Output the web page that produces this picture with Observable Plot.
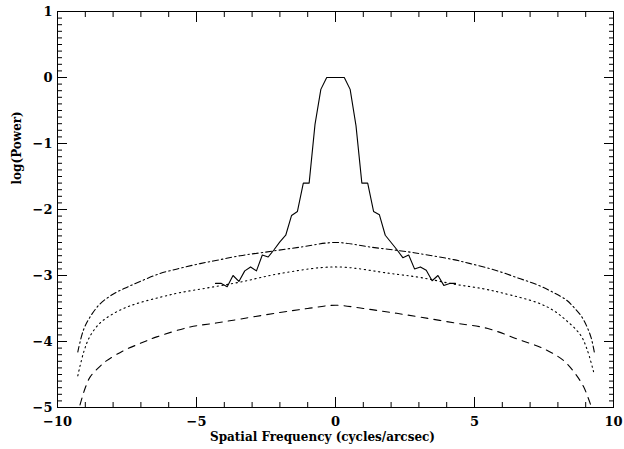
<!DOCTYPE html>
<html><head><meta charset="utf-8">
<script src="https://cdn.jsdelivr.net/npm/d3@7"></script>
<script src="https://cdn.jsdelivr.net/npm/@observablehq/plot@0.6"></script>
<style>body{margin:0;background:#fff} svg{display:block}</style>
</head><body><div id="chart"></div>
<script>
// Observed power spectrum (solid)
const freq = [-4.317,-4.107,-3.896,-3.686,-3.475,-3.264,-3.054,-2.843,-2.633,-2.422,-2.211,-2.001,-1.790,-1.580,-1.369,-1.158,-0.948,-0.737,-0.527,-0.316,-0.105,
              0.105,0.316,0.527,0.737,0.948,1.158,1.369,1.580,1.790,2.001,2.211,2.422,2.633,2.843,3.054,3.264,3.475,3.686,3.896,4.107,4.317];
const power = [-3.12,-3.12,-3.17,-3.00,-3.09,-2.93,-2.87,-2.93,-2.69,-2.72,-2.61,-2.49,-2.39,-2.09,-2.03,-1.60,-1.60,-0.71,-0.18,0,0,
               0,0,-0.18,-0.73,-1.60,-1.60,-2.03,-2.08,-2.39,-2.50,-2.61,-2.73,-2.69,-2.90,-2.87,-2.92,-3.08,-3.00,-3.15,-3.12,-3.12];

// Dash-dot curve
const dashDotX = [-9.27,-9.07,-8.83,-8.47,-7.99,-7.51,-7.03,-6.31,-5.59,-4.87,-4.15,-3.43,-2.59,-1.27,0,1.27,2.59,3.05,4.25,4.85,5.75,6.65,7.25,7.85,8.3,8.57,8.85,9.05,9.2,9.31];
const dashDotY = [-4.16,-3.83,-3.63,-3.43,-3.28,-3.18,-3.09,-2.97,-2.89,-2.82,-2.76,-2.70,-2.65,-2.57,-2.50,-2.57,-2.64,-2.67,-2.76,-2.82,-2.92,-3.05,-3.14,-3.26,-3.37,-3.48,-3.62,-3.78,-3.95,-4.16];

// Dotted curve
const dottedX = [-9.27,-9.05,-8.83,-8.47,-8.0,-7.51,-7.03,-6.31,-5.59,-4.63,-3.43,-1.99,0,1.99,3.05,4.25,5.3,6.05,7.25,7.8,8.3,8.81,9.05,9.29];
const dottedY = [-4.52,-4.15,-3.92,-3.72,-3.58,-3.48,-3.41,-3.33,-3.26,-3.19,-3.10,-2.97,-2.87,-2.97,-3.03,-3.13,-3.20,-3.27,-3.41,-3.52,-3.68,-3.90,-4.12,-4.47];

// Dashed curve
const dashedX = [-9.19,-9.0,-8.83,-8.53,-8.23,-7.63,-7.03,-6.43,-5.23,-4.3,-3.43,-2.0,-1.0,0,1.0,2.0,3.05,4.3,5.45,6.53,7.49,8.21,8.63,8.93,9.17];
const dashedY = [-4.96,-4.70,-4.54,-4.40,-4.29,-4.14,-4.03,-3.93,-3.78,-3.72,-3.66,-3.56,-3.50,-3.45,-3.50,-3.56,-3.63,-3.72,-3.80,-3.96,-4.11,-4.29,-4.49,-4.69,-4.95];

const xMajor = [-10,-5,0,5,10];
const xMinor = [-9,-8,-7,-6,-4,-3,-2,-1,1,2,3,4,6,7,8,9];
const yMajor = [-5,-4,-3,-2,-1,0,1];
const yMinor = [];
for (let v = -50; v <= 10; v++) if (v % 10 !== 0) yMinor.push(v / 10);

const toPts = (xs, ys) => xs.map((x, i) => ({x, y: ys[i]}));
const solid = toPts(freq, power);
const dashDot = toPts(dashDotX, dashDotY);
const dotted = toPts(dottedX, dottedY);
const dashed = toPts(dashedX, dashedY);

const blank = () => "";
const intFmt = d => d < 0 ? "\u2212" + Math.abs(d) : String(d);
const chart = Plot.plot({
  width: 624, height: 449,
  marginLeft: 57, marginRight: 11, marginTop: 11, marginBottom: 42,
  style: {fontFamily: "DejaVu Serif", fontWeight: "bold", fontSize: "13px", background: "white", color: "black"},
  x: {domain: [-10, 10], label: null},
  y: {domain: [-5, 1], label: null},
  marks: [
    Plot.frame({stroke: "black"}),
    Plot.axisX(xMinor, {anchor: "bottom", tickSize: -5, tickFormat: blank, label: null}),
    Plot.axisX(xMinor, {anchor: "top", tickSize: -5, tickFormat: blank, label: null}),
    Plot.axisX(xMajor, {anchor: "bottom", tickSize: -10, tickFormat: blank, label: null}),
    Plot.axisX(xMajor, {anchor: "top", tickSize: -10, tickFormat: blank, label: null}),
    Plot.axisX(xMajor, {anchor: "bottom", tickSize: 0, tickPadding: 9, tickFormat: intFmt, label: null, fontSize: 13}),
    Plot.axisY(yMinor, {anchor: "left", tickSize: -5, tickFormat: blank, label: null}),
    Plot.axisY(yMinor, {anchor: "right", tickSize: -5, tickFormat: blank, label: null}),
    Plot.axisY(yMajor, {anchor: "left", tickSize: -10, tickFormat: blank, label: null}),
    Plot.axisY(yMajor, {anchor: "right", tickSize: -10, tickFormat: blank, label: null}),
    Plot.axisY(yMajor, {anchor: "left", tickSize: 0, tickPadding: 5, tickFormat: intFmt, label: null, fontSize: 13}),
    Plot.line(dashDot, {x: "x", y: "y", stroke: "black", strokeWidth: 1.1, strokeDasharray: "6,3,1.5,3", curve: "catmull-rom"}),
    Plot.line(dotted, {x: "x", y: "y", stroke: "black", strokeWidth: 1.1, strokeDasharray: "1.3,3.5", curve: "catmull-rom"}),
    Plot.line(dashed, {x: "x", y: "y", stroke: "black", strokeWidth: 1.1, strokeDasharray: "7,6", curve: "catmull-rom"}),
    Plot.line(solid, {x: "x", y: "y", stroke: "black", strokeWidth: 1.1}),
    Plot.text(["Spatial Frequency (cycles/arcsec)"], {frameAnchor: "bottom", dx: -13, dy: 33, fontSize: 12, fontWeight: "bold"}),
    Plot.text(["log(Power)"], {frameAnchor: "left", dx: -40, dy: -25, rotate: -90, fontSize: 12, fontWeight: "bold"})
  ]
});
document.getElementById("chart").append(chart);
</script>
</body></html>
